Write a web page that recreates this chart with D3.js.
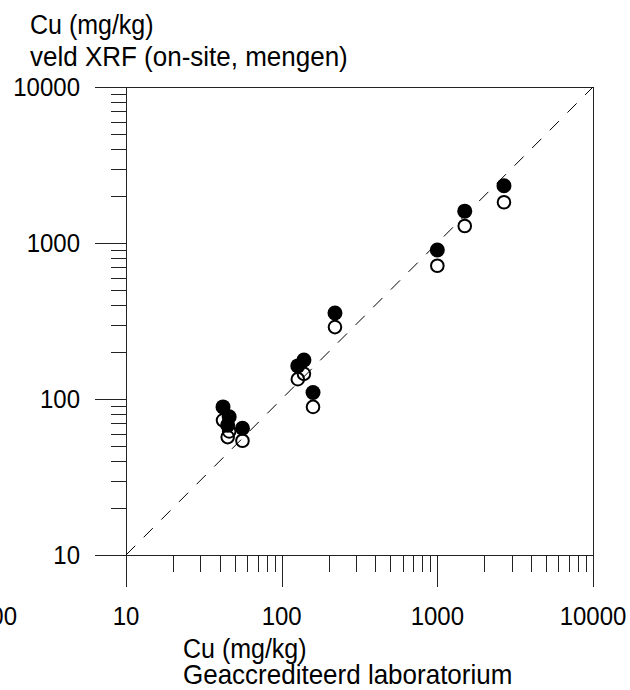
<!DOCTYPE html>
<html>
<head>
<meta charset="utf-8">
<script src="https://cdn.jsdelivr.net/npm/d3@7"></script>
<style>
  body { margin: 0; background: #fff; }
  text { font-family: Arial, "Liberation Sans", sans-serif; fill: #000; }
</style>
</head>
<body>
<script>
// data: lab value (x) vs XRF value (y), two measurements per sample
var labValues    = [42, 46, 45, 56, 127, 139, 159, 220, 1000, 1500, 2680];
var xrfFilled    = [89, 77, 68, 65, 163, 178, 110, 356, 902, 1600, 2330];
var xrfOpen      = [73, 62, 57, 54, 134, 145, 89, 289, 715, 1285, 1824];
var majorTicks   = [10, 100, 1000, 10000];
var tickLabels   = ["10", "100", "1000", "10000"];

var width = 630, height = 690;
var plotLeft = 126, plotRight = 593, plotTop = 87, plotBottom = 555;
var stretch = 1.08;

var svg = d3.select("body").append("svg")
	.attr("width", width)
	.attr("height", height);

var x = d3.scaleLog().domain([10, 10000]).range([plotLeft, plotRight]);
var y = d3.scaleLog().domain([10, 10000]).range([plotBottom, plotTop]);

// minor ticks 2..9 in each decade
var minorTicks = [];
majorTicks.slice(0, 3).forEach(function(d) {
	for (var k = 2; k <= 9; k++) minorTicks.push(d * k);
});

function label(txt, px, py, anchor, size) {
	svg.append("text")
		.attr("transform", "translate(" + px + "," + py + ") scale(1," + stretch + ")")
		.attr("text-anchor", anchor || "start")
		.attr("font-size", size || 24)
		.text(txt);
}

var g = svg.append("g")
	.attr("stroke", "#222")
	.attr("stroke-width", 1)
	.attr("shape-rendering", "crispEdges");

// frame: top and right
g.append("line").attr("x1", plotLeft - 31).attr("x2", plotRight).attr("y1", plotTop + 0.5).attr("y2", plotTop + 0.5);
g.append("line").attr("x1", plotRight + 0.5).attr("x2", plotRight + 0.5).attr("y1", plotTop).attr("y2", plotBottom + 32);

// y axis
g.append("line").attr("x1", plotLeft + 0.5).attr("x2", plotLeft + 0.5).attr("y1", plotTop).attr("y2", plotBottom + 32);
g.selectAll(".ymaj").data(majorTicks).enter().append("line")
	.attr("x1", plotLeft - 31).attr("x2", plotLeft)
	.attr("y1", function(d) { return Math.round(y(d)) + 0.5; })
	.attr("y2", function(d) { return Math.round(y(d)) + 0.5; });
g.selectAll(".ymin").data(minorTicks).enter().append("line")
	.attr("x1", plotLeft - 15).attr("x2", plotLeft)
	.attr("y1", function(d) { return Math.round(y(d)) + 0.5; })
	.attr("y2", function(d) { return Math.round(y(d)) + 0.5; });

// x axis
g.append("line").attr("x1", plotLeft - 31).attr("x2", plotRight).attr("y1", plotBottom + 0.5).attr("y2", plotBottom + 0.5);
g.selectAll(".xmaj").data(majorTicks).enter().append("line")
	.attr("x1", function(d) { return Math.round(x(d)) + 0.5; })
	.attr("x2", function(d) { return Math.round(x(d)) + 0.5; })
	.attr("y1", plotBottom).attr("y2", plotBottom + 32);
g.selectAll(".xmin").data(minorTicks).enter().append("line")
	.attr("x1", function(d) { return Math.round(x(d)) + 0.5; })
	.attr("x2", function(d) { return Math.round(x(d)) + 0.5; })
	.attr("y1", plotBottom).attr("y2", plotBottom + 17);

// 1:1 line
svg.append("line")
	.attr("x1", x(10)).attr("y1", y(10))
	.attr("x2", x(10000)).attr("y2", y(10000))
	.attr("stroke", "#000")
	.attr("stroke-width", 1)
	.attr("stroke-dasharray", "13,12");

// tick labels
majorTicks.forEach(function(d, i) {
	label(tickLabels[i], 80, y(d) + 9, "end");
	label(tickLabels[i], x(d), 625, "middle");
});
label("100", 17, 625, "end");

// axis titles
label("Cu (mg/kg)", 30, 34, "start", 25);
label("veld XRF (on-site, mengen)", 30, 66, "start", 26);
label("Cu (mg/kg)", 183, 658, "start", 25);
label("Geaccrediteerd laboratorium", 183, 684, "start", 26);

// points
svg.selectAll(".filled").data(labValues).enter().append("circle")
	.attr("cx", function(d) { return x(d); })
	.attr("cy", function(d, i) { return y(xrfFilled[i]); })
	.attr("r", 7.5)
	.attr("fill", "#000");

svg.selectAll(".open").data(labValues).enter().append("circle")
	.attr("cx", function(d) { return x(d); })
	.attr("cy", function(d, i) { return y(xrfOpen[i]); })
	.attr("r", 6.3)
	.attr("fill", "none")
	.attr("stroke", "#000")
	.attr("stroke-width", 2);
</script>
</body>
</html>
